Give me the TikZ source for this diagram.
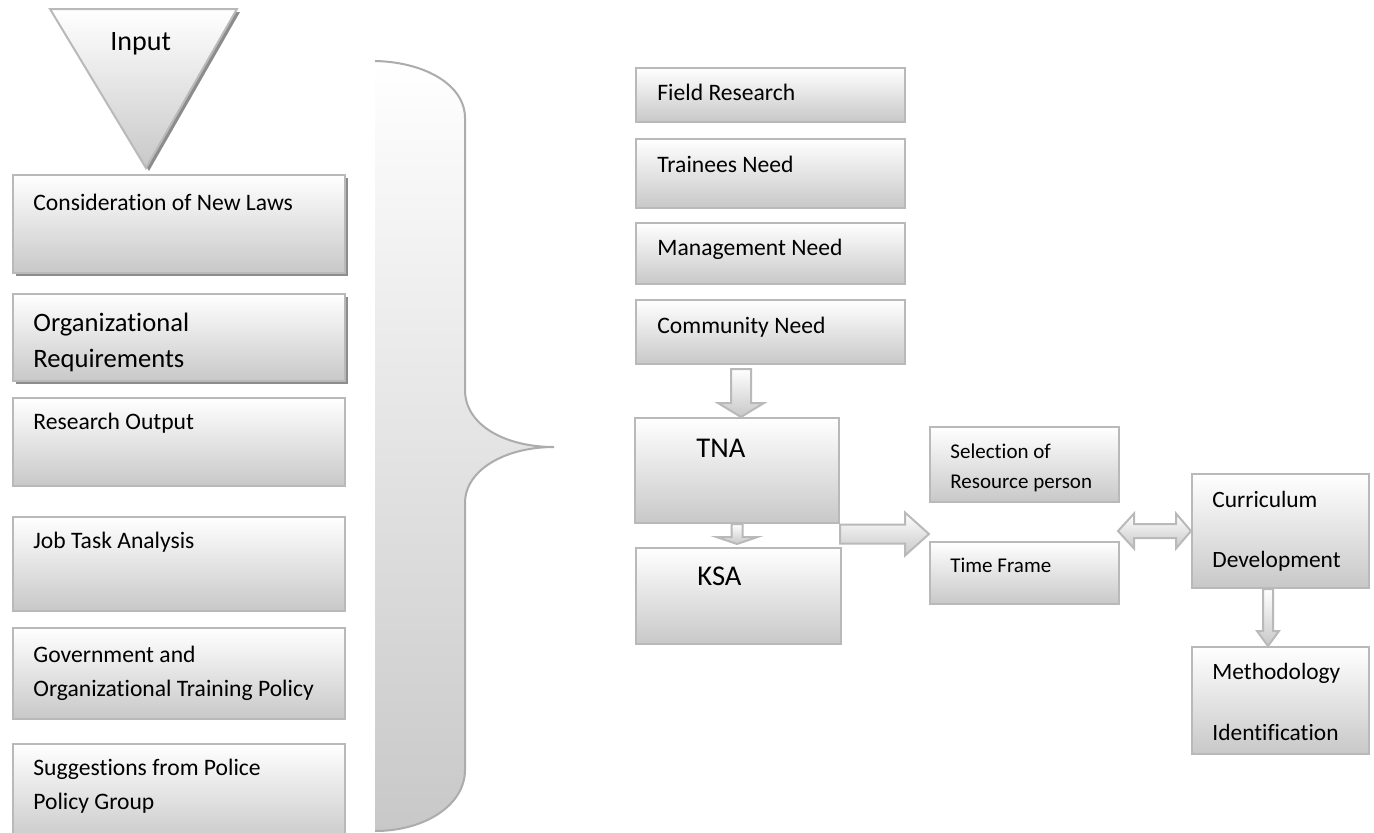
\documentclass[tikz,border=0pt]{standalone}
\usepackage{fontspec}
\setmainfont{Carlito}[Ligatures=NoCommon]
\usetikzlibrary{calc,shadows}

\definecolor{boxline}{RGB}{185,185,185}
\definecolor{boxbot}{RGB}{200,200,200}
\definecolor{shadowgray}{RGB}{140,140,140}
\definecolor{braceline}{RGB}{172,172,172}

\tikzset{
  gbox/.style={draw=boxline, line width=1pt, top color=white, bottom color=boxbot, inner sep=0pt, anchor=north west},
  sz/.style 2 args={minimum width=#1*0.5pt, minimum height=#2*0.5pt},
  shad/.style={drop shadow={shadow xshift=1.5pt, shadow yshift=-1.5pt, fill=shadowgray, opacity=1}},
  lbl/.style={anchor=base west, inner sep=0pt, font=\fontsize{11.8}{17}\selectfont},
  blockarr/.style={draw=boxline, line width=1pt, top color=white, bottom color=boxbot},
}

\begin{document}
\begin{tikzpicture}[x=0.5pt, y=-0.5pt]
    \useasboundingbox (0,0) rectangle (1374,832);

    % Input triangle
    \path[shad, draw=boxline, line width=1pt, top color=white, bottom color=boxbot]
        (50,9) -- (237,9) -- (146,168) -- cycle;
    \node[lbl, font=\fontsize{14}{17}\selectfont] (input) at (110,50) {Input};

    % Left column
    \node[gbox, shad, sz={332}{98}] (laws) at (12,174) {};
    \node[gbox, shad, sz={332}{87}] (orgreq) at (12,293) {};
    \node[gbox, sz={332}{88}] (resout) at (12,397) {};
    \node[gbox, sz={332}{94}] (jobtask) at (12,516) {};
    \node[gbox, sz={332}{91}] (govpol) at (12,627) {};
    \node[gbox, sz={332}{100}] (police) at (12,743) {};

    \node[lbl] (lawsT) at (33,210) {Consideration of New Laws};
    \node[lbl, font=\fontsize{13.3}{18}\selectfont] (orgreqT) at (33,331)
        {\parbox[t]{150pt}{Organizational\\Requirements}};
    \node[lbl] (resoutT) at (33,429) {Research Output};
    \node[lbl] (jobtaskT) at (33,548) {Job Task Analysis};
    \node[lbl] (govpolT) at (33,662)
        {\parbox[t]{150pt}{Government and\\Organizational Training Policy}};
    \node[lbl] (policeT) at (33,775)
        {\parbox[t]{150pt}{Suggestions from Police\\Policy Group}};

    % Brace
    \newcommand\bracepath{(375,61) .. controls (425,62) and (465,85) .. (465,118)
        -- (465,390) .. controls (465,425) and (505,447) .. (554,447)
        .. controls (505,447) and (465,470) .. (465,503)
        -- (465,770) .. controls (465,805) and (425,831) .. (375,831)}
    \fill[top color=white, bottom color=boxbot] \bracepath -- cycle;
    \draw[braceline, line width=1pt] \bracepath;

    % Right column
    \node[gbox, sz={269}{54}] (field) at (635,67) {};
    \node[gbox, sz={269}{69}] (trainees) at (635,138) {};
    \node[gbox, sz={269}{61}] (mgmt) at (635,222) {};
    \node[gbox, sz={269}{64}] (community) at (635,299) {};
    \node[gbox, sz={204}{105}] (tna) at (634,417) {};
    \node[gbox, sz={205}{96}] (ksa) at (635,547) {};

    \node[lbl] (fieldT) at (657,100) {Field Research};
    \node[lbl] (traineesT) at (657,172) {Trainees Need};
    \node[lbl] (mgmtT) at (657,255) {Management Need};
    \node[lbl] (communityT) at (657,333) {Community Need};
    \node[lbl, font=\fontsize{14.3}{17}\selectfont] (tnaT) at (696,457) {TNA};
    \node[lbl, font=\fontsize{14.3}{17}\selectfont] (ksaT) at (697,585) {KSA};

    \node[gbox, sz={189}{75}] (selres) at (929,426) {};
    \node[gbox, sz={189}{62}] (timefr) at (929,541) {};
    \node[gbox, sz={177}{114}] (curric) at (1191,473) {};
    \node[gbox, sz={177}{107}] (method) at (1191,646) {};

    \node[lbl, font=\fontsize{10.5}{15}\selectfont] (selresT) at (950,458)
        {\parbox[t]{90pt}{Selection of\\Resource person}};
    \node[lbl, font=\fontsize{10.5}{15}\selectfont] (timefrT) at (950,572) {Time Frame};
    \node[lbl, font=\fontsize{11.7}{30}\selectfont] (curricT) at (1212,507)
        {\parbox[t]{80pt}{Curriculum\\Development}};
    \node[lbl, font=\fontsize{11.7}{30.5}\selectfont] (methodT) at (1212,679)
        {\parbox[t]{80pt}{Methodology\\Identification}};

    % Block arrows
    \path[blockarr] let \p0=(741,0), \p1=(community.south), \p2=(tna.north) in
        (\x0-5pt,\y1-2pt) -- (\x0-5pt,\y2+7pt) -- (\x0-11.5pt,\y2+7pt) -- (\x0,\y2)
        -- (\x0+11.5pt,\y2+7pt) -- (\x0+5pt,\y2+7pt) -- (\x0+5pt,\y1-2pt) -- cycle;
    \path[blockarr] let \p1=(tna.south), \p2=(ksa.north) in
        (\x1-2.75pt,\y1) -- (\x1-2.75pt,\y2+5pt) -- (\x1-10.25pt,\y2+5pt) -- (\x1,\y2+1.5pt)
        -- (\x1+10.25pt,\y2+5pt) -- (\x1+2.75pt,\y2+5pt) -- (\x1+2.75pt,\y1) -- cycle;
    \path[blockarr] let \p1=(ksa.north east), \p2=(timefr.west) in
        (\x1-1pt,\y1+11.25pt) -- (\x2-12pt,\y1+11.25pt) -- (\x2-12pt,\y1+17.25pt) -- (\x2,\y1+6.5pt)
        -- (\x2-12pt,\y1-4.25pt) -- (\x2-12pt,\y1+1.75pt) -- (\x1-1pt,\y1+1.75pt) -- cycle;
    \path[blockarr] let \p1=(timefr.east), \p2=(curric.west) in
        (\x1-1pt,\y2) -- (\x1+7pt,\y2+8.75pt) -- (\x1+7pt,\y2+3.5pt) -- (\x2-7.5pt,\y2+3.5pt)
        -- (\x2-7.5pt,\y2+8.75pt) -- (\x2,\y2) -- (\x2-7.5pt,\y2-8.75pt) -- (\x2-7.5pt,\y2-3.5pt)
        -- (\x1+7pt,\y2-3.5pt) -- (\x1+7pt,\y2-8.75pt) -- cycle;
    \path[blockarr] let \p0=(1268,0), \p1=(curric.south), \p2=(method.north) in
        (\x0-2.5pt,\y1) -- (\x0-2.5pt,\y2+7.5pt) -- (\x0-5.5pt,\y2+7.5pt) -- (\x0,\y2)
        -- (\x0+5.5pt,\y2+7.5pt) -- (\x0+2.5pt,\y2+7.5pt) -- (\x0+2.5pt,\y1) -- cycle;
\end{tikzpicture}
\end{document}
